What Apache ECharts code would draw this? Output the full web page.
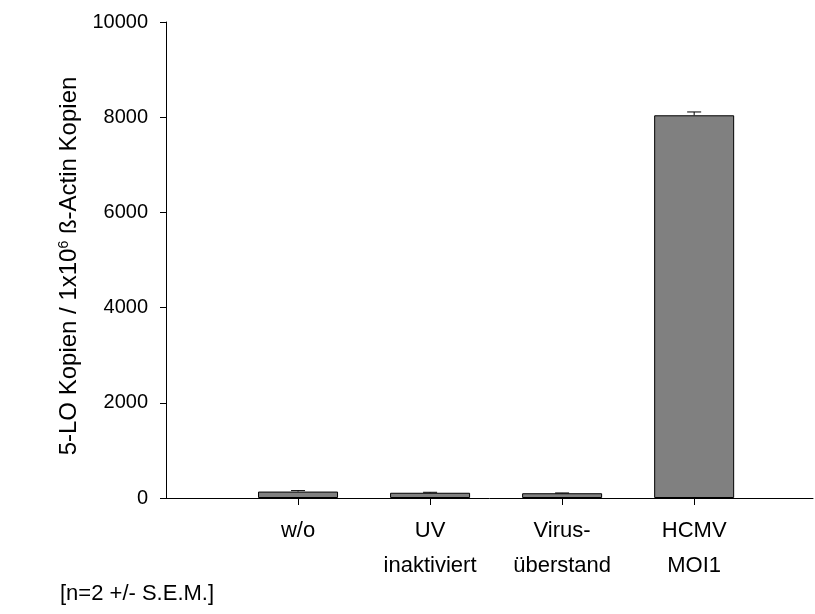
<!DOCTYPE html>
<html>
<head>
<meta charset="utf-8">
<script src="https://cdn.jsdelivr.net/npm/echarts@6/dist/echarts.min.js"></script>
<style>
html,body{margin:0;padding:0;background:#fff;}
#chart{width:815px;height:614px;}
</style>
</head>
<body>
<div id="chart"></div>
<script>
var categories = ['w/o', 'UV\ninaktiviert', 'Virus-\nüberstand', 'HCMV\nMOI1'];
var values = [135, 110, 100, 8040];
var sem = [20, 10, 6, 70];
var yTicks = [0, 2000, 4000, 6000, 8000, 10000];
var positions = [1, 2, 3, 4];

var FONT = 'Liberation Sans, Arial, sans-serif';
var chart = echarts.init(document.getElementById('chart'), null, {renderer: 'canvas'});

var barData = values.map(function (v, i) { return [positions[i], v]; });
var errData = values.map(function (v, i) { return [positions[i], v, sem[i]]; });

chart.setOption({
  animation: false,
  backgroundColor: '#ffffff',
  textStyle: {fontFamily: FONT},
  title: {
    text: '[n=2 +/- S.E.M.]',
    left: 55,
    top: 578,
    textStyle: {fontFamily: FONT, fontSize: 22, fontWeight: 'normal', color: '#000'}
  },
  grid: {left: 166, right: 2, top: 22, bottom: 116, containLabel: false},
  xAxis: {
    type: 'value',
    min: 0,
    max: 4.9,
    splitLine: {show: false},
    axisLine: {show: true, lineStyle: {color: '#000', width: 1}},
    axisTick: {show: true, length: 7, inside: false, customValues: positions, lineStyle: {color: '#000'}},
    axisLabel: {
      show: true,
      customValues: positions,
      margin: 15,
      fontSize: 22,
      lineHeight: 35,
      color: '#000',
      fontFamily: FONT,
      formatter: function (val) {
        var idx = positions.indexOf(Math.round(val));
        return idx >= 0 ? categories[idx] : '';
      }
    }
  },
  yAxis: {
    type: 'value',
    min: yTicks[0],
    max: yTicks[yTicks.length - 1],
    interval: 2000,
    splitLine: {show: false},
    axisLine: {show: true, lineStyle: {color: '#000', width: 1}},
    axisTick: {show: true, length: 6, inside: false, lineStyle: {color: '#000'}},
    axisLabel: {
      margin: 18, fontSize: 20, color: '#000', fontFamily: FONT,
      formatter: function (v) { return String(v); }
    },
    name: '5-LO Kopien / 1x10{sup|6} ß-Actin Kopien',
    nameLocation: 'middle',
    nameGap: 72,
    nameRotate: 90,
    nameTextStyle: {
      fontSize: 24, color: '#000', fontFamily: FONT,
      padding: [0, 12, 0, 0],
      rich: {sup: {fontSize: 14, verticalAlign: 'top', lineHeight: 14, padding: [0, 0, 10, 0], color: '#000', fontFamily: FONT}}
    }
  },
  series: [
    {
      type: 'bar',
      data: barData,
      barWidth: 80,
      itemStyle: {color: '#808080', borderColor: '#000', borderWidth: 1},
      z: 2
    },
    {
      type: 'custom',
      data: errData,
      z: 3,
      renderItem: function (params, api) {
        var x = api.value(0), y = api.value(1), e = api.value(2);
        var p0 = api.coord([x, y]);
        var p1 = api.coord([x, y + e]);
        var hw = 7;
        return {
          type: 'group',
          children: [
            {type: 'line', shape: {x1: p0[0], y1: p0[1], x2: p1[0], y2: p1[1]}, style: {stroke: '#000', lineWidth: 1}},
            {type: 'line', shape: {x1: p1[0] - hw, y1: p1[1], x2: p1[0] + hw, y2: p1[1]}, style: {stroke: '#000', lineWidth: 1}}
          ]
        };
      }
    }
  ]
});
</script>
</body>
</html>
